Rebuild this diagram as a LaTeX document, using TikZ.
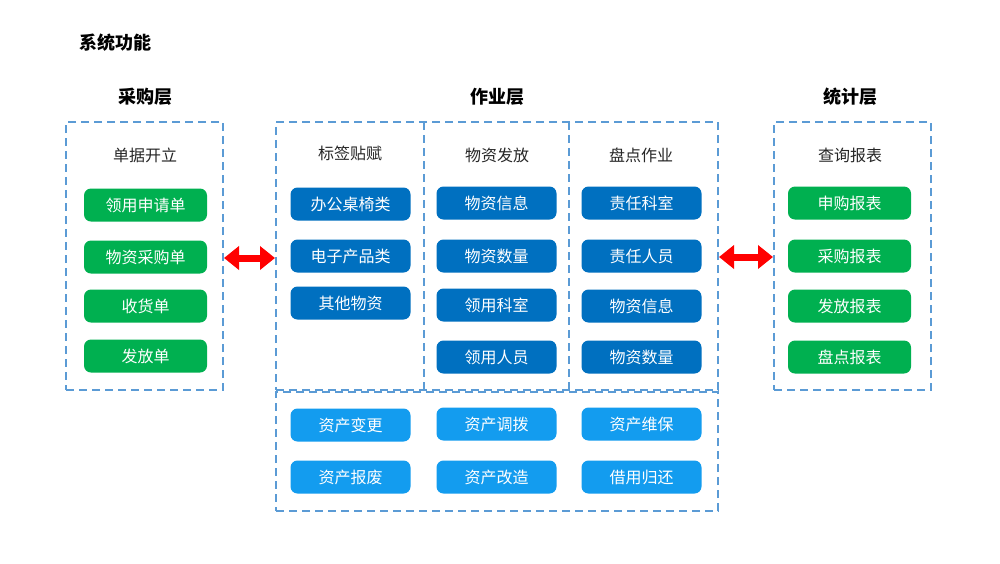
\documentclass[tikz,border=0pt]{standalone}
\usepackage{fontspec}
\setmainfont{Noto Sans CJK SC}
\usepackage{tikz}
\usetikzlibrary{arrows.meta, positioning, calc}
\usepackage{xcolor}
\definecolor{verde}{HTML}{00B050}
\definecolor{azul}{HTML}{0070C0}
\definecolor{celeste}{HTML}{139CEF}
\definecolor{borde}{HTML}{5B9BD5}
\definecolor{texto}{HTML}{262626}

\tikzset{
	panel/.style={draw=borde, line width=2pt, dash pattern=on 8pt off 5pt, inner sep=0pt},
	caja/.style={rounded corners=7pt, text=white, font=\fontsize{16}{17}\selectfont,
		minimum width=120pt, minimum height=33pt, inner sep=0pt},
	verdebox/.style={caja, fill=verde, minimum width=123pt},
	azulbox/.style={caja, fill=azul},
	celestebox/.style={caja, fill=celeste},
	cabecera/.style={text=texto, font=\fontsize{16}{17}\selectfont},
	capa/.style={text=black, font=\fontsize{18}{19}\selectfont\bfseries},
	flecha/.style={red, line width=7pt, {Triangle[width=23pt,length=15pt]}-{Triangle[width=23pt,length=15pt]}}
}

\begin{document}
\begin{tikzpicture}[x=1pt, y=-1pt]
			\useasboundingbox[fill=white] (0,0) rectangle (1000,563);

			% Titulos
			\node[capa, anchor=west] (titulo) at (76,43) {系统功能};
			\node[capa] (caigou) at (145,97) {采购层};
			\node[capa] (zuoye) at (497,97) {作业层};
			\node[capa] (tongji) at (850,97) {统计层};

			% Marcos punteados
			\node[panel, minimum width=157pt, minimum height=268pt] (izq) at (144.5,256) {};
			\node[panel, minimum width=442pt, minimum height=268pt] (centro) at (497,256) {};
			\node[panel, minimum width=442pt, minimum height=119pt] (abajo) at (497,451.5) {};
			\node[panel, minimum width=157pt, minimum height=268pt] (der) at (852.5,256) {};
			\draw[panel] (424,122) -- (424,390);
			\draw[panel] (569,122) -- (569,390);

			% Capa de compras (verde)
			\node[cabecera] (danju) at (145,155) {单据开立};
			\node[verdebox] (lingyong) at (145.5,205) {领用申请单};
			\node[verdebox] (caigoudan) at (145.5,257) {物资采购单};
			\node[verdebox] (shouhuo) at (145.5,306) {收货单};
			\node[verdebox] (fafang) at (145.5,356) {发放单};

			% Capa de operaciones (azul)
			\node[cabecera] (biaoqian) at (350,153) {标签贴赋};
			\node[azulbox] (bangong) at (350.5,204) {办公桌椅类};
			\node[azulbox] (dianzi) at (350.5,256) {电子产品类};
			\node[azulbox] (qita) at (350.5,303) {其他物资};

			\node[cabecera] (wuzifa) at (497,155) {物资发放};
			\node[azulbox] (xinxi) at (496.5,203) {物资信息};
			\node[azulbox] (shuliang) at (496.5,256) {物资数量};
			\node[azulbox] (keshi) at (496.5,305) {领用科室};
			\node[azulbox] (renyuan) at (496.5,357) {领用人员};

			\node[cabecera] (pandian) at (641,155) {盘点作业};
			\node[azulbox] (zeren) at (641.5,203) {责任科室};
			\node[azulbox] (zerenren) at (641.5,256) {责任人员};
			\node[azulbox] (pdxinxi) at (641.5,306) {物资信息};
			\node[azulbox] (pdshuliang) at (641.5,357) {物资数量};

			% Gestion de activos (celeste)
			\node[celestebox] (biangeng) at (350.5,425) {资产变更};
			\node[celestebox] (diaobo) at (496.5,424) {资产调拨};
			\node[celestebox] (weibao) at (641.5,424) {资产维保};
			\node[celestebox] (baofei) at (350.5,477) {资产报废};
			\node[celestebox] (gaizao) at (496.5,477) {资产改造};
			\node[celestebox] (jieyong) at (641.5,477) {借用归还};

			% Capa de estadisticas (verde)
			\node[cabecera] (chaxun) at (850,155) {查询报表};
			\node[verdebox] (shengou) at (849.5,203) {申购报表};
			\node[verdebox] (cgbaobiao) at (849.5,256) {采购报表};
			\node[verdebox] (ffbaobiao) at (849.5,306) {发放报表};
			\node[verdebox] (pdbaobiao) at (849.5,357) {盘点报表};

			% Flechas rojas
			\draw[flecha] ($(izq.east)+(0,2)$) -- ($(centro.west)+(0,2)$);
			\draw[flecha] ($(centro.east)+(0,1)$) -- ($(der.west)+(0,1)$);
		\end{tikzpicture}
\end{document}
